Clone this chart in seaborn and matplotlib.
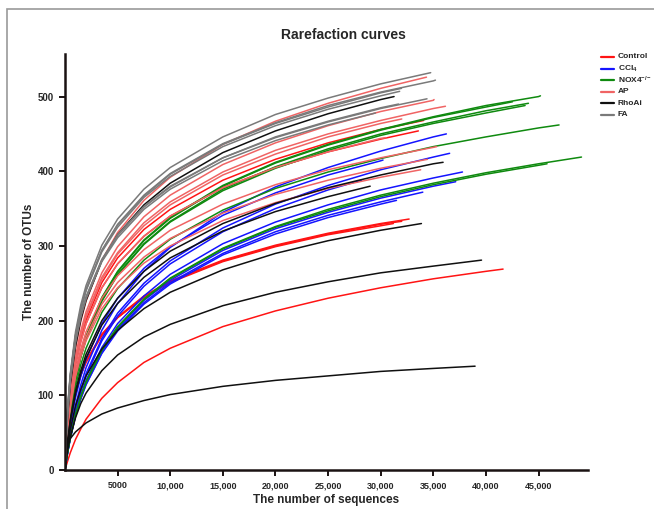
import matplotlib
matplotlib.use("Agg")
import matplotlib.pyplot as plt
import pandas as pd
import seaborn as sns
from matplotlib.lines import Line2D
from matplotlib.patches import Rectangle

# ---------------- data ----------------
DEPTHS = [0, 100, 250, 500, 1000, 1500, 2000, 3500, 5000, 7500, 10000,
          15000, 20000, 25000, 30000, 35000, 40000, 45000]

GROUPS = ["Control", "CCl4", "NOX4", "AP", "RhoAi", "FA"]
LABELS = ["Control", r"CCl$_4$", r"NOX4$^{-/-}$", "AP", "RhoAi", "FA"]
COLORS = ["#ff1414", "#1414ff", "#0f8a0f", "#f06464", "#101010", "#7a7a7a"]

control_end = [34080, 33580, 32700, 32000, 31200, 41630]
control_otus = [
    [0, 28, 60, 97, 145, 177, 201, 251, 284, 322, 349, 388, 416, 438, 456, 468],
    [0, 28, 58, 94, 141, 172, 196, 244, 276, 313, 340, 378, 405, 426, 443, 454],
    [0, 21, 43, 70, 105, 128, 146, 182, 205, 233, 253, 281, 301, 317, 330, 336],
    [0, 20, 43, 70, 104, 127, 145, 181, 204, 232, 252, 280, 300, 316, 329, 333],
    [0, 20, 43, 70, 104, 127, 144, 180, 204, 231, 251, 279, 299, 315, 327, 330],
    [0, 5, 12, 23, 41, 55, 68, 96, 117, 144, 163, 192, 213, 230, 244, 256, 266, 269],
]

ccl4_end = [36240, 36550, 30220, 37770, 28170, 37130, 31500, 34000]
ccl4_otus = [
    [0, 12, 28, 50, 86, 114, 137, 187, 223, 266, 298, 345, 379, 405, 427, 446, 450],
    [0, 11, 26, 47, 81, 107, 129, 176, 210, 250, 280, 324, 356, 381, 402, 419, 424],
    [0, 15, 33, 59, 97, 125, 148, 196, 230, 270, 299, 341, 371, 395, 414, 415],
    [0, 10, 24, 44, 76, 100, 120, 164, 196, 233, 262, 303, 332, 355, 375, 391, 399],
    [0, 11, 26, 47, 80, 105, 126, 173, 206, 246, 276, 319, 350, 375, 388],
    [0, 10, 24, 43, 74, 97, 117, 159, 190, 227, 254, 294, 323, 345, 364, 380, 386],
    [0, 10, 23, 42, 72, 95, 114, 156, 186, 222, 249, 288, 316, 338, 356, 361],
    [0, 10, 23, 42, 73, 96, 115, 157, 188, 224, 251, 290, 319, 341, 359, 372],
]

nox4_end = [45180, 42520, 44040, 43720, 46950, 49080, 45810]
nox4_otus = [
    [0, 20, 45, 77, 122, 154, 179, 231, 266, 308, 338, 381, 412, 436, 456, 473, 488, 500, 501],
    [0, 20, 45, 77, 122, 153, 178, 230, 265, 307, 337, 380, 411, 435, 455, 472, 486, 493],
    [0, 20, 44, 76, 120, 152, 176, 227, 262, 303, 333, 376, 406, 430, 450, 466, 481, 491],
    [0, 20, 44, 76, 120, 151, 175, 226, 261, 302, 332, 374, 404, 428, 448, 464, 478, 488],
    [0, 18, 41, 70, 112, 141, 163, 211, 243, 281, 309, 348, 377, 399, 417, 433, 446, 458, 462],
    [0, 10, 24, 43, 74, 98, 118, 161, 192, 229, 257, 297, 326, 349, 368, 384, 398, 410, 419],
    [0, 10, 24, 43, 74, 98, 117, 160, 191, 228, 256, 296, 325, 347, 366, 382, 396, 408, 410],
]

ap_end = [34350, 35070, 36150, 35320, 34440, 33800, 32000, 30500]
ap_otus = [
    [0, 32, 67, 109, 162, 199, 226, 281, 318, 361, 392, 436, 467, 491, 511, 526],
    [0, 30, 63, 102, 152, 186, 212, 264, 299, 339, 368, 409, 438, 461, 480, 495, 496],
    [0, 29, 62, 100, 149, 182, 207, 258, 291, 331, 359, 399, 428, 450, 468, 484, 487],
    [0, 26, 55, 89, 133, 162, 185, 230, 260, 295, 321, 356, 382, 402, 418, 432, 433],
    [0, 25, 53, 86, 128, 157, 178, 222, 251, 285, 310, 344, 369, 388, 404, 416],
    [0, 25, 52, 83, 125, 152, 173, 216, 244, 277, 300, 334, 358, 377, 392, 402],
    [0, 29, 61, 99, 147, 180, 205, 255, 289, 327, 355, 395, 423, 446, 464, 470],
    [0, 28, 58, 94, 141, 172, 196, 244, 276, 313, 340, 378, 405, 426, 444, 445],
]

rhoai_end = [31270, 35930, 29000, 33870, 39580, 38970]
rhoai_otus = [
    [0, 35, 72, 114, 166, 201, 227, 280, 315, 355, 384, 425, 454, 477, 496, 500],
    [0, 18, 39, 67, 106, 133, 155, 200, 230, 266, 293, 330, 357, 378, 395, 410, 412],
    [0, 17, 38, 65, 102, 129, 150, 194, 223, 258, 284, 320, 346, 366, 380],
    [0, 14, 32, 54, 86, 108, 126, 162, 187, 216, 238, 268, 290, 307, 321, 330],
    [0, 12, 26, 44, 70, 89, 103, 133, 154, 178, 195, 220, 238, 252, 264, 273, 281],
    [0, 33, 37, 42, 51, 57, 63, 75, 83, 93, 101, 112, 120, 126, 132, 136, 139],
]

fa_end = [34750, 35200, 31970, 31800, 34400, 31700, 29500]
fa_otus = [
    [0, 42, 84, 129, 185, 221, 247, 301, 336, 376, 405, 446, 476, 498, 517, 532],
    [0, 41, 82, 126, 181, 216, 242, 294, 329, 368, 397, 437, 465, 488, 506, 521, 522],
    [0, 41, 82, 126, 180, 215, 241, 294, 328, 367, 396, 436, 464, 486, 505, 511],
    [0, 41, 81, 125, 179, 214, 240, 292, 325, 365, 393, 433, 461, 483, 501, 507],
    [0, 39, 78, 121, 173, 206, 231, 281, 314, 352, 379, 418, 445, 466, 484, 497],
    [0, 39, 78, 121, 173, 207, 232, 282, 315, 353, 380, 418, 446, 467, 485, 490],
    [0, 39, 78, 120, 171, 205, 229, 279, 311, 349, 376, 414, 441, 462, 478],
]

X_TICKS = [5000, 10000, 15000, 20000, 25000, 30000, 35000, 40000, 45000]
X_TICKLABELS = ["5000", "10,000", "15,000", "20,000", "25,000", "30,000",
                "35,000", "40,000", "45,000"]
Y_TICKS = [0, 100, 200, 300, 400, 500]

# ---------------- build long table ----------------
rows = []
for grp, ends, curves in [("Control", control_end, control_otus),
                          ("CCl4", ccl4_end, ccl4_otus),
                          ("NOX4", nox4_end, nox4_otus),
                          ("AP", ap_end, ap_otus),
                          ("RhoAi", rhoai_end, rhoai_otus),
                          ("FA", fa_end, fa_otus)]:
    for i, (e, vals) in enumerate(zip(ends, curves)):
        depths = [d for d in DEPTHS if d < e] + [e]
        n = min(len(depths), len(vals))
        for d, v in zip(depths[:n - 1] + [e], vals[:n - 1] + [vals[-1]]):
            rows.append((grp, f"{grp}_{i}", d, v))
df = pd.DataFrame(rows, columns=["group", "sample", "depth", "otus"])

# ---------------- style ----------------
sns.set_style("ticks")
plt.rcParams["font.family"] = ["Liberation Sans", "DejaVu Sans"]
plt.rcParams["mathtext.fontset"] = "custom"
plt.rcParams["mathtext.rm"] = "Liberation Sans:bold"
plt.rcParams["mathtext.it"] = "Liberation Sans:bold"
plt.rcParams["mathtext.bf"] = "Liberation Sans:bold"

W, H = 654, 509
fig = plt.figure(figsize=(W / 100, H / 100), dpi=100)
ax = fig.add_axes([65 / W, 1 - 470 / H, (588 - 65) / W, (470 - 54) / H])

sns.lineplot(data=df, x="depth", y="otus", hue="group", hue_order=GROUPS,
             palette=COLORS, units="sample", estimator=None, sort=False,
             linewidth=1.1, legend=False, ax=ax)

ax.set_xlim(0, 49700)
ax.set_ylim(0, 557)
ax.set_xticks(X_TICKS)
ax.set_xticklabels(X_TICKLABELS, fontweight="bold", fontsize=6.5)
ax.set_yticks(Y_TICKS)
ax.set_yticklabels([str(v) for v in Y_TICKS], fontweight="bold", fontsize=7)
for s in ["top", "right"]:
    ax.spines[s].set_visible(False)
for s in ["left", "bottom"]:
    ax.spines[s].set_linewidth(1.8)
    ax.spines[s].set_color("#1a1212")
ax.tick_params(axis="both", direction="out", length=4.5, width=1.4,
               color="#1a1212", pad=3.5)
ax.set_xlabel("The number of sequences", fontsize=8.5, fontweight="bold",
              labelpad=3)
ax.set_ylabel("The number of OTUs", fontsize=8.5, fontweight="bold",
              labelpad=2)
ax.grid(False)

fig.text(343 / W, 1 - 35 / H, "Rarefaction curves", ha="center", va="center",
         fontsize=10, fontweight="bold")

# legend, laid out row by row as in the reference
for i, (lab, col) in enumerate(zip(LABELS, COLORS)):
    yy = 1 - (57 + i * 11.6) / H
    fig.add_artist(Line2D([601 / W, 614 / W], [yy, yy], color=col, lw=1.6,
                          transform=fig.transFigure))
    fig.text(618 / W, yy, lab, ha="left", va="center", fontsize=6,
             fontweight="bold")

fig.add_artist(Rectangle((7 / W, -0.2), 2, 1.2 - 9 / H,
                         transform=fig.transFigure, fill=False,
                         ec="#9a9a9a", lw=1.2, clip_on=False))

fig.savefig("out.png", dpi=100)
